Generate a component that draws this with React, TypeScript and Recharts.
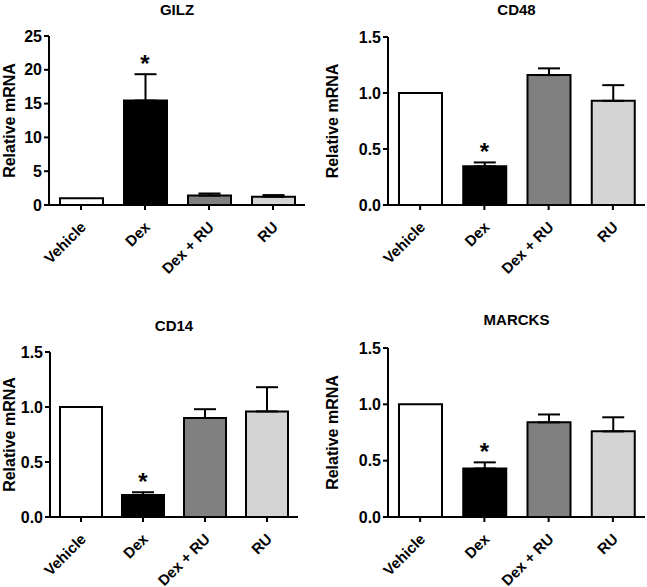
import { Bar, Cell, ComposedChart, ErrorBar, Label, Scatter, XAxis, YAxis } from 'recharts';

const categories = ['Vehicle', 'Dex', 'Dex + RU', 'RU'];
const barFills = ['#ffffff', '#000000', '#808080', '#d4d4d4'];
const significant = [false, true, false, false];

const gilzValues = [1.0, 15.45, 1.4, 1.22];
const gilzErrors = [0, 3.9, 0.3, 0.25];

const cd48Values = [1.0, 0.345, 1.16, 0.93];
const cd48Errors = [0, 0.035, 0.06, 0.14];

const cd14Values = [1.0, 0.2, 0.9, 0.96];
const cd14Errors = [0, 0.025, 0.08, 0.22];

const marcksValues = [1.0, 0.43, 0.84, 0.76];
const marcksErrors = [0, 0.055, 0.07, 0.125];

const gilzTicks = [0, 5, 10, 15, 20, 25];
const smallTicks = [0, 0.5, 1.0, 1.5];

const FONT = '"Liberation Sans", Arial, sans-serif';

function buildRows(values: number[], errors: number[]) {
  return categories.map((name, i) => ({
    name,
    value: values[i],
    err: errors[i] > 0 ? [0, errors[i]] : null,
    star: significant[i] ? values[i] + errors[i] : null,
  }));
}

const CategoryTick = (props: any) => {
  const { x, y, payload } = props;
  const tx = x + 6;
  const ty = y + 16;
  return (
    <text
      x={tx}
      y={ty}
      transform={`rotate(-45, ${tx}, ${ty})`}
      textAnchor="end"
      fontFamily={FONT}
      fontWeight="bold"
      fontSize={15}
      fill="#000"
    >
      {payload.value}
    </text>
  );
};

const StarShape = (props: any) => {
  const { cx, cy } = props;
  if (cx == null || cy == null || props.payload?.star == null) return <g />;
  return (
    <text x={cx} y={cy - 2} textAnchor="middle" fontFamily={FONT} fontWeight="bold" fontSize={24} fill="#000">
      *
    </text>
  );
};

type PanelProps = {
  title: string;
  values: number[];
  errors: number[];
  left: number;
  top: number;
  width: number;
  height: number;
  plotLeft: number;
  plotTop: number;
  plotRight: number;
  plotBottom: number;
  domain: [number, number];
  ticks: number[];
  decimals: number;
  barSize: number;
  titleY: number;
};

function Panel(p: PanelProps) {
  const rows = buildRows(p.values, p.errors);
  const xAxisHeight = p.height - p.plotBottom;
  return (
    <div style={{ position: 'absolute', left: p.left, top: p.top, width: p.width, height: p.height, overflow: 'hidden' }}>
      <div
        style={{
          position: 'absolute',
          left: p.plotLeft,
          width: p.plotRight - p.plotLeft,
          top: p.titleY - 9,
          lineHeight: '18px',
          textAlign: 'center',
          fontFamily: FONT,
          fontWeight: 'bold',
          fontSize: 15,
        }}
      >
        {p.title}
      </div>
      <ComposedChart
        width={p.width}
        height={p.height}
        data={rows}
        margin={{ top: p.plotTop, right: p.width - p.plotRight, bottom: 0, left: 0 }}
        barSize={p.barSize}
      >
        <XAxis
          dataKey="name"
          height={xAxisHeight}
          interval={0}
          tickSize={5}
          tick={<CategoryTick />}
          axisLine={{ stroke: '#000', strokeWidth: 2 }}
          tickLine={{ stroke: '#000', strokeWidth: 2 }}
        />
        <YAxis
          width={p.plotLeft}
          domain={p.domain}
          ticks={p.ticks}
          interval={0}
          tickSize={5}
          tickFormatter={(v: number) => v.toFixed(p.decimals)}
          tick={{ fill: '#000', fontFamily: FONT, fontWeight: 'bold', fontSize: 16 }}
          axisLine={{ stroke: '#000', strokeWidth: 2 }}
          tickLine={{ stroke: '#000', strokeWidth: 2 }}
        >
          <Label
            content={({ viewBox }: any) => {
              const cx = 9;
              const cy = viewBox.y + viewBox.height / 2;
              return (
                <text
                  x={cx}
                  y={cy}
                  transform={`rotate(-90, ${cx}, ${cy})`}
                  textAnchor="middle"
                  dominantBaseline="central"
                  fontFamily={FONT}
                  fontWeight="bold"
                  fontSize={16}
                  fill="#000"
                >
                  Relative mRNA
                </text>
              );
            }}
          />
        </YAxis>
        <Bar dataKey="value" stroke="#000" strokeWidth={2} isAnimationActive={false}>
          {rows.map((r, i) => (
            <Cell key={r.name} fill={barFills[i]} />
          ))}
          <ErrorBar dataKey="err" width={11} stroke="#000" strokeWidth={2} direction="y" />
        </Bar>
        <Scatter dataKey="star" shape={<StarShape />} isAnimationActive={false} />
      </ComposedChart>
    </div>
  );
}

export default function App() {
  return (
    <div style={{ position: 'absolute', left: 0, top: 0, width: 647, height: 587, background: '#fff' }}>
      <Panel
        title="GILZ"
        values={gilzValues}
        errors={gilzErrors}
        left={0}
        top={0}
        width={320}
        height={290}
        plotLeft={49}
        plotTop={36}
        plotRight={305}
        plotBottom={205}
        domain={[0, 25]}
        ticks={gilzTicks}
        decimals={0}
        barSize={43}
        titleY={10}
      />
      <Panel
        title="CD48"
        values={cd48Values}
        errors={cd48Errors}
        left={323}
        top={0}
        width={324}
        height={290}
        plotLeft={65}
        plotTop={37}
        plotRight={322}
        plotBottom={205}
        domain={[0, 1.5]}
        ticks={smallTicks}
        decimals={1}
        barSize={43}
        titleY={10}
      />
      <Panel
        title="CD14"
        values={cd14Values}
        errors={cd14Errors}
        left={0}
        top={295}
        width={320}
        height={292}
        plotLeft={50}
        plotTop={57}
        plotRight={298}
        plotBottom={222}
        domain={[0, 1.5]}
        ticks={smallTicks}
        decimals={1}
        barSize={42}
        titleY={31}
      />
      <Panel
        title="MARCKS"
        values={marcksValues}
        errors={marcksErrors}
        left={323}
        top={295}
        width={324}
        height={292}
        plotLeft={65}
        plotTop={53}
        plotRight={322}
        plotBottom={222}
        domain={[0, 1.5]}
        ticks={smallTicks}
        decimals={1}
        barSize={43}
        titleY={25}
      />
    </div>
  );
}
